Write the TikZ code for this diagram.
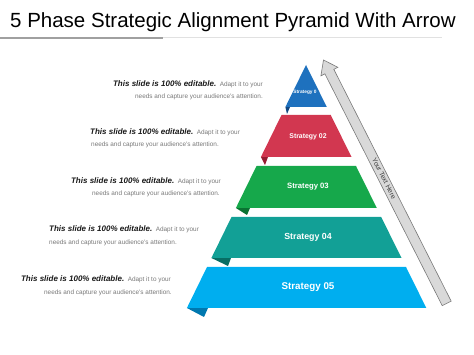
\documentclass[tikz,border=0pt]{standalone}
\usepackage{fontspec}
\setmainfont{Liberation Sans}
\definecolor{tblue}{RGB}{30,113,190}
\definecolor{tbluef}{RGB}{18,72,130}
\definecolor{tred}{RGB}{210,55,80}
\definecolor{tredf}{RGB}{150,28,50}
\definecolor{tgreen}{RGB}{22,168,75}
\definecolor{tgreenf}{RGB}{10,115,50}
\definecolor{tteal}{RGB}{18,160,150}
\definecolor{ttealf}{RGB}{8,110,100}
\definecolor{tsky}{RGB}{0,174,239}
\definecolor{tskyf}{RGB}{0,120,175}
\definecolor{descgray}{RGB}{120,120,120}
\definecolor{darktext}{RGB}{25,25,25}
\definecolor{arrowfill}{RGB}{217,217,217}
\definecolor{arrowline}{RGB}{120,120,120}
\definecolor{ruledark}{RGB}{160,160,160}
\definecolor{rulelight}{RGB}{225,225,225}
\begin{document}
\begin{tikzpicture}[x=1pt,y=-1pt,
  layer/.style={draw=none},
  lbl/.style={inner sep=0pt, text=white, font=\bfseries},
  desc/.style={inner sep=0pt, text=descgray, font=\fontsize{6.4}{7}\selectfont},
]
\useasboundingbox (0,0) rectangle (474,355);
% title
\node[anchor=base west, inner sep=0pt, font=\fontsize{20.5}{24}\selectfont, text=black] (title) at (10,27.5) {5 Phase Strategic Alignment Pyramid With Arrow};
\draw[ruledark, line width=1.5pt] (0,38) -- (163,38);
\draw[rulelight, line width=1pt] (163,38) -- (442,38);

% folds
\fill[tbluef]  (285.4,107) -- (287,114) -- (290,107) -- cycle;
\fill[tredf]   (260.9,157) -- (265,165) -- (268,157) -- cycle;
\fill[tgreenf] (235.9,208) -- (247,215) -- (250,208) -- cycle;
\fill[ttealf]  (211.4,258) -- (228,266) -- (231,258) -- cycle;
\fill[tskyf]   (186.9,308) -- (204,317) -- (208,308) -- cycle;

% layers
\fill[tblue]  (306,65) -- (326.8,107) -- (285.4,107) -- cycle;
\fill[tred]   (281.5,115) -- (330.75,115) -- (351.5,157) -- (260.9,157) -- cycle;
\fill[tgreen] (256.5,166) -- (356,166) -- (376.8,208) -- (235.9,208) -- cycle;
\fill[tteal]  (231.5,217) -- (381.2,217) -- (401.5,258) -- (211.4,258) -- cycle;
\fill[tsky]   (207,267) -- (406,267) -- (426.3,308) -- (186.9,308) -- cycle;

% labels
\node[lbl, font=\bfseries\fontsize{4.8}{5}\selectfont] (s1) at (305,92) {Strategy 0};
\node[lbl, font=\bfseries\fontsize{6.9}{8}\selectfont] (s2) at (308,137) {Strategy 02};
\node[lbl, font=\bfseries\fontsize{7.7}{9}\selectfont] (s3) at (308,187) {Strategy 03};
\node[lbl, font=\bfseries\fontsize{8.8}{10}\selectfont] (s4) at (308,237) {Strategy 04};
\node[lbl, font=\bfseries\fontsize{9.8}{11}\selectfont] (s5) at (308,287) {Strategy 05};

% arrow
\filldraw[fill=arrowfill, draw=arrowline, line width=0.6pt, line join=miter]
  (323.5,60) -- (337.85,67.31) -- (333.83,69.34) -- (451.16,301.14) -- (442.24,305.66)
  -- (324.91,73.86) -- (320.89,75.89) -- cycle;
\node[inner sep=0pt, rotate=-63.2, text=darktext!85, font=\fontsize{6.8}{8}\selectfont] (yt) at (384,178.5) {Your Text Here};

% descriptions
\newcommand{\boldpart}{{\color{darktext}\fontsize{8}{9}\selectfont\bfseries\itshape This slide is 100\% editable.}\hspace{3.5pt}}
\node[desc, anchor=east] (t1a) at (263,84) {\boldpart Adapt it to your};
\node[desc, anchor=east] (t1b) at (263,97) {needs and capture your audience's attention.};
\node[desc, anchor=west] (t2a) at (90,132) {\boldpart Adapt it to your};
\node[desc, anchor=west] (t2b) at (91,145) {needs and capture your audience's attention.};
\node[desc, anchor=east] (t3a) at (221,181) {\boldpart Adapt it to your};
\node[desc, anchor=east] (t3b) at (220,194) {needs and capture your audience's attention.};
\node[desc, anchor=west] (t4a) at (49,229) {\boldpart Adapt it to your};
\node[desc, anchor=west] (t4b) at (49,243) {needs and capture your audience's attention.};
\node[desc, anchor=east] (t5a) at (171,279) {\boldpart Adapt it to your};
\node[desc, anchor=east] (t5b) at (172,293) {needs and capture your audience's attention.};
\end{tikzpicture}
\end{document}
